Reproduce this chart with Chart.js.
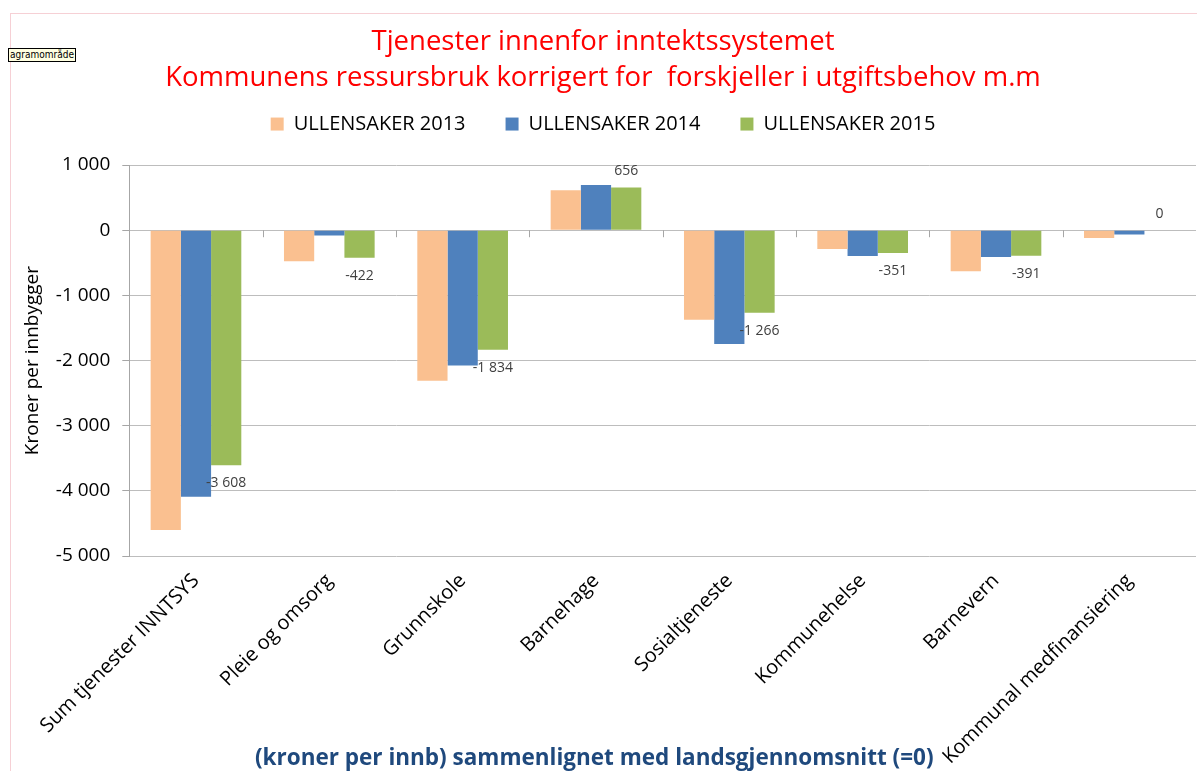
<!DOCTYPE html>
<html lang="no">
<head>
<meta charset="utf-8">
<title>Tjenester innenfor inntektssystemet</title>
<script src="https://cdn.jsdelivr.net/npm/chart.js@4.4.1/dist/chart.umd.min.js"></script>
<style>
    html, body { margin: 0; padding: 0; background: #fff; overflow: hidden; }
    .frame {
        position: absolute; left: 10px; top: 13px; width: 1200px; height: 800px;
        border: 1px solid #f6d0d5;
    }
    .hint {
        position: absolute; left: 8px; top: 48px; padding: 0 1px;
        font: 10px "DejaVu Sans Condensed", "DejaVu Sans", sans-serif;
        line-height: 12px; background: #ffffe1; border: 1px solid #000; color: #000;
    }
    #chart { position: absolute; left: 10px; top: 0; }
</style>
</head>
<body>
<div class="frame"></div>
<canvas id="chart" width="1195" height="771"></canvas>
<div class="hint">agramområde</div>
<script>
const categories = ['Sum tjenester INNTSYS', 'Pleie og omsorg', 'Grunnskole', 'Barnehage',
    'Sosialtjeneste', 'Kommunehelse', 'Barnevern', 'Kommunal medfinansiering'];
const seriesNames = ['ULLENSAKER 2013', 'ULLENSAKER 2014', 'ULLENSAKER 2015'];
const values2013 = [-4600, -477, -2310, 615, -1374, -287, -630, -120];
const values2014 = [-4090, -80, -2075, 692, -1745, -395, -410, -65];
const values2015 = [-3608, -422, -1834, 656, -1266, -351, -391, 0];
const seriesColors = ['#fac090', '#4f81bd', '#9bbb59'];
const yMin = -5000;
const yMax = 1000;
const yStep = 1000;

const FONT = "'Open Sans', sans-serif";

function formatNumber(value) {
    const sign = value < 0 ? '-' : '';
    const digits = String(Math.abs(Math.round(value)));
    return sign + digits.replace(/\B(?=(\d{3})+(?!\d))/g, ' ');
}

// labels for the 2015 series, like Excel's "outside end"
const valueLabels = {
    id: 'valueLabels',
    afterDatasetsDraw(chart) {
        const meta = chart.getDatasetMeta(2);
        const ctx = chart.ctx;
        ctx.save();
        ctx.font = '14px ' + FONT;
        ctx.fillStyle = '#404040';
        ctx.textAlign = 'center';
        ctx.textBaseline = 'middle';
        meta.data.forEach((bar, i) => {
            const value = values2015[i];
            const y = value >= 0 ? bar.y - 16 : bar.y + 18;
            ctx.fillText(formatNumber(value), bar.x, y);
        });
        ctx.restore();
    },
};

// small category ticks on the zero line
const zeroTicks = {
    id: 'zeroTicks',
    afterDatasetsDraw(chart) {
        const x = chart.scales.x;
        const y0 = chart.scales.y.getPixelForValue(0);
        const ctx = chart.ctx;
        ctx.save();
        ctx.strokeStyle = '#a6a6a6';
        ctx.lineWidth = 1;
        for (let i = 1; i < categories.length; i++) {
            const px = Math.round(x.getPixelForValue(i - 0.5)) + 0.5;
            ctx.beginPath();
            ctx.moveTo(px, y0);
            ctx.lineTo(px, y0 + 7);
            ctx.stroke();
        }
        ctx.restore();
    },
};

// extra room between legend and plot
const legendGap = {
    id: 'legendGap',
    beforeInit(chart) {
        const fit = chart.legend.fit;
        chart.legend.fit = function () {
            fit.call(this);
            this.height += 21;
        };
    },
};

new Chart(document.getElementById('chart'), {
    type: 'bar',
    data: {
        labels: categories,
        datasets: [values2013, values2014, values2015].map((data, i) => ({
            label: seriesNames[i],
            data,
            backgroundColor: seriesColors[i],
            borderWidth: 0,
            categoryPercentage: 0.68,
            barPercentage: 1,
        })),
    },
    options: {
        responsive: false,
        animation: false,
        layout: {
            padding: { left: 0, right: 9, top: 0, bottom: -3 },
        },
        plugins: {
            title: {
                display: true,
                text: ['Tjenester innenfor inntektssystemet',
                    'Kommunens ressursbruk korrigert for  forskjeller i utgiftsbehov m.m'],
                color: '#ff0000',
                font: { family: FONT, size: 27.5, weight: 'normal', lineHeight: 1.31 },
                padding: { top: 24, bottom: -22 },
            },
            subtitle: {
                display: true,
                position: 'bottom',
                text: '(kroner per innb) sammenlignet med landsgjennomsnitt (=0)   ',
                color: '#1f497d',
                font: { family: FONT, size: 22.5, weight: 'bold' },
                padding: { top: -29, bottom: -4 },
            },
            legend: {
                labels: {
                    color: '#000',
                    font: { family: FONT, size: 20 },
                    boxWidth: 13,
                    boxHeight: 13,
                    padding: 40,
                },
            },
            tooltip: { enabled: false },
        },
        scales: {
            x: {
                grid: { display: false },
                border: { display: false },
                ticks: {
                    color: '#000',
                    font: { family: FONT, size: 20 },
                    minRotation: 45,
                    maxRotation: 45,
                    padding: 5,
                    labelOffset: 0,
                },
            },
            y: {
                min: yMin,
                max: yMax,
                grid: { color: '#bdbdbd', tickColor: '#a6a6a6', tickLength: 7 },
                border: { display: true, color: '#a6a6a6' },
                ticks: {
                    stepSize: yStep,
                    color: '#000',
                    font: { family: FONT, size: 19 },
                    padding: 12,
                    callback: (value) => formatNumber(value),
                },
                title: {
                    display: true,
                    text: 'Kroner per innbygger',
                    color: '#000',
                    font: { family: FONT, size: 19 },
                    padding: { top: 11, bottom: 0 },
                },
            },
        },
    },
    plugins: [valueLabels, zeroTicks, legendGap],
});
</script>
</body>
</html>
